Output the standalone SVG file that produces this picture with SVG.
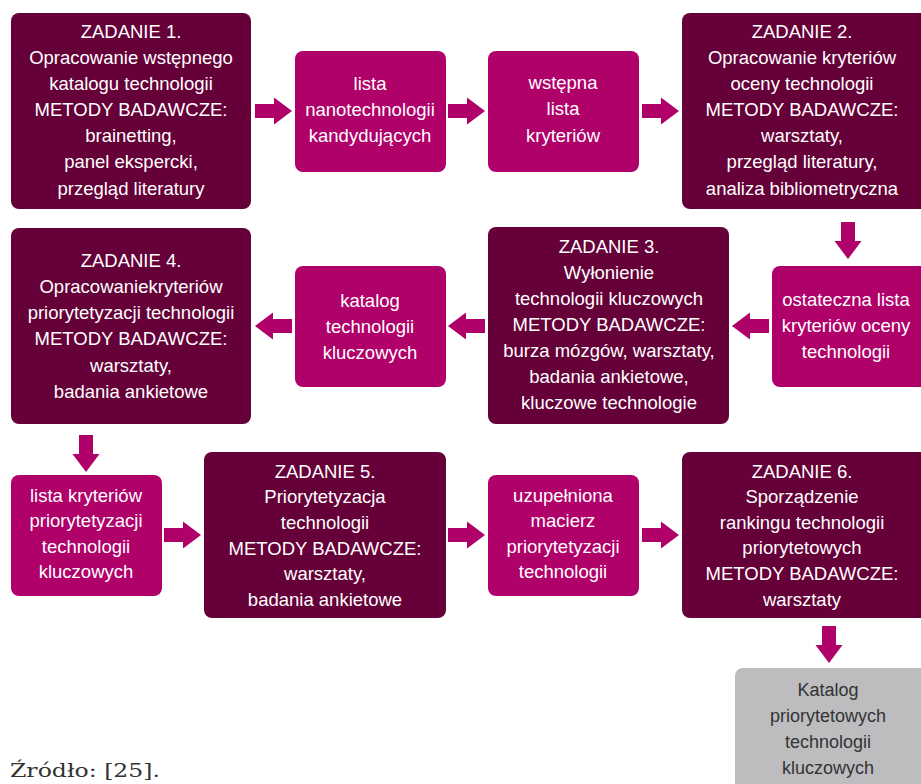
<svg xmlns="http://www.w3.org/2000/svg" xmlns:xlink="http://www.w3.org/1999/xlink" width="921" height="784" viewBox="0 0 921 784">
<style>
.task{fill:#660038}
.prod{fill:#b0006a}
.final{fill:#bdbdc0}
.arr{fill:#b0006a}
text{font-family:"Liberation Sans",Arial,sans-serif;font-size:18.5px;text-anchor:middle}
.w{fill:#ffffff}
.g{fill:#333333;font-size:18px}
.src{font-family:"DejaVu Serif","Liberation Serif",serif;font-size:19px;text-anchor:start;fill:#333333}
</style>
<defs>
<path id="arrow" d="M0,-7 H19 V-13.5 L37,0 L19,13.5 V7 H0 Z"/>
</defs>
<rect width="921" height="784" fill="#ffffff"/>
<g id="connectors" class="arr">
<use xlink:href="#arrow" transform="translate(255,111)"/>
<use xlink:href="#arrow" transform="translate(448,111)"/>
<use xlink:href="#arrow" transform="translate(642,111)"/>
<use xlink:href="#arrow" transform="translate(848,222) rotate(90)"/>
<use xlink:href="#arrow" transform="translate(769,326) rotate(180)"/>
<use xlink:href="#arrow" transform="translate(485,326) rotate(180)"/>
<use xlink:href="#arrow" transform="translate(292,326) rotate(180)"/>
<use xlink:href="#arrow" transform="translate(86,435) rotate(90)"/>
<use xlink:href="#arrow" transform="translate(164,535)"/>
<use xlink:href="#arrow" transform="translate(448,535)"/>
<use xlink:href="#arrow" transform="translate(642,535)"/>
<use xlink:href="#arrow" transform="translate(829,626) rotate(90)"/>
</g>
<g id="z1">
<rect class="task" x="11" y="13" width="240" height="196" rx="8"/>
<text class="w" x="131" y="38">ZADANIE 1.</text>
<text class="w" x="131" y="64">Opracowanie wstępnego</text>
<text class="w" x="131" y="90">katalogu technologii</text>
<text class="w" x="131" y="116">METODY BADAWCZE:</text>
<text class="w" x="131" y="142">brainetting,</text>
<text class="w" x="131" y="168">panel ekspercki,</text>
<text class="w" x="131" y="195">przegląd literatury</text>
</g>
<g id="p1">
<rect class="prod" x="295" y="51" width="151" height="121" rx="8"/>
<text class="w" x="370" y="90">lista</text>
<text class="w" x="370" y="116">nanotechnologii</text>
<text class="w" x="370" y="142">kandydujących</text>
</g>
<g id="p2">
<rect class="prod" x="488" y="51" width="151" height="121" rx="8"/>
<text class="w" x="563" y="89">wstępna</text>
<text class="w" x="563" y="115">lista</text>
<text class="w" x="563" y="142">kryteriów</text>
</g>
<g id="z2">
<rect class="task" x="682" y="13" width="250" height="196" rx="8"/>
<text class="w" x="802" y="38">ZADANIE 2.</text>
<text class="w" x="802" y="64">Opracowanie kryteriów</text>
<text class="w" x="802" y="90">oceny technologii</text>
<text class="w" x="802" y="116">METODY BADAWCZE:</text>
<text class="w" x="802" y="142">warsztaty,</text>
<text class="w" x="802" y="168">przegląd literatury,</text>
<text class="w" x="802" y="195">analiza bibliometryczna</text>
</g>
<g id="p3">
<rect class="prod" x="772" y="266" width="160" height="121" rx="8"/>
<text class="w" x="846" y="306">ostateczna lista</text>
<text class="w" x="846" y="332">kryteriów oceny</text>
<text class="w" x="846" y="358">technologii</text>
</g>
<g id="z3">
<rect class="task" x="488" y="227" width="241" height="197" rx="8"/>
<text class="w" x="609" y="253">ZADANIE 3.</text>
<text class="w" x="609" y="279">Wyłonienie</text>
<text class="w" x="609" y="305">technologii kluczowych</text>
<text class="w" x="609" y="331">METODY BADAWCZE:</text>
<text class="w" x="609" y="357">burza mózgów, warsztaty,</text>
<text class="w" x="609" y="383">badania ankietowe,</text>
<text class="w" x="609" y="409">kluczowe technologie</text>
</g>
<g id="p4">
<rect class="prod" x="295" y="266" width="151" height="121" rx="8"/>
<text class="w" x="370" y="307">katalog</text>
<text class="w" x="370" y="333">technologii</text>
<text class="w" x="370" y="359">kluczowych</text>
</g>
<g id="z4">
<rect class="task" x="11" y="228" width="240" height="196" rx="8"/>
<text class="w" x="131" y="267">ZADANIE 4.</text>
<text class="w" x="131" y="293">Opracowaniekryteriów</text>
<text class="w" x="131" y="319">priorytetyzacji technologii</text>
<text class="w" x="131" y="345">METODY BADAWCZE:</text>
<text class="w" x="131" y="372">warsztaty,</text>
<text class="w" x="131" y="398">badania ankietowe</text>
</g>
<g id="p5">
<rect class="prod" x="11" y="475" width="151" height="121" rx="8"/>
<text class="w" x="86" y="502">lista kryteriów</text>
<text class="w" x="86" y="527">priorytetyzacji</text>
<text class="w" x="86" y="553">technologii</text>
<text class="w" x="86" y="578">kluczowych</text>
</g>
<g id="z5">
<rect class="task" x="204" y="452" width="242" height="166" rx="8"/>
<text class="w" x="325" y="478">ZADANIE 5.</text>
<text class="w" x="325" y="503">Priorytetyzacja</text>
<text class="w" x="325" y="529">technologii</text>
<text class="w" x="325" y="555">METODY BADAWCZE:</text>
<text class="w" x="325" y="580">warsztaty,</text>
<text class="w" x="325" y="606">badania ankietowe</text>
</g>
<g id="p6">
<rect class="prod" x="488" y="475" width="151" height="121" rx="8"/>
<text class="w" x="563" y="502">uzupełniona</text>
<text class="w" x="563" y="527">macierz</text>
<text class="w" x="563" y="553">priorytetyzacji</text>
<text class="w" x="563" y="578">technologii</text>
</g>
<g id="z6">
<rect class="task" x="682" y="452" width="250" height="166" rx="8"/>
<text class="w" x="802" y="478">ZADANIE 6.</text>
<text class="w" x="802" y="503">Sporządzenie</text>
<text class="w" x="802" y="529">rankingu technologii</text>
<text class="w" x="802" y="554">priorytetowych</text>
<text class="w" x="802" y="580">METODY BADAWCZE:</text>
<text class="w" x="802" y="606">warsztaty</text>
</g>
<g id="final">
<rect class="final" x="735" y="668" width="200" height="130" rx="8"/>
<text class="g" x="828" y="696">Katalog</text>
<text class="g" x="828" y="722">priorytetowych</text>
<text class="g" x="828" y="748">technologii</text>
<text class="g" x="828" y="774">kluczowych</text>
</g>
<text class="src" x="10" y="777" textLength="150" lengthAdjust="spacingAndGlyphs">Źródło: [25].</text>
</svg>
